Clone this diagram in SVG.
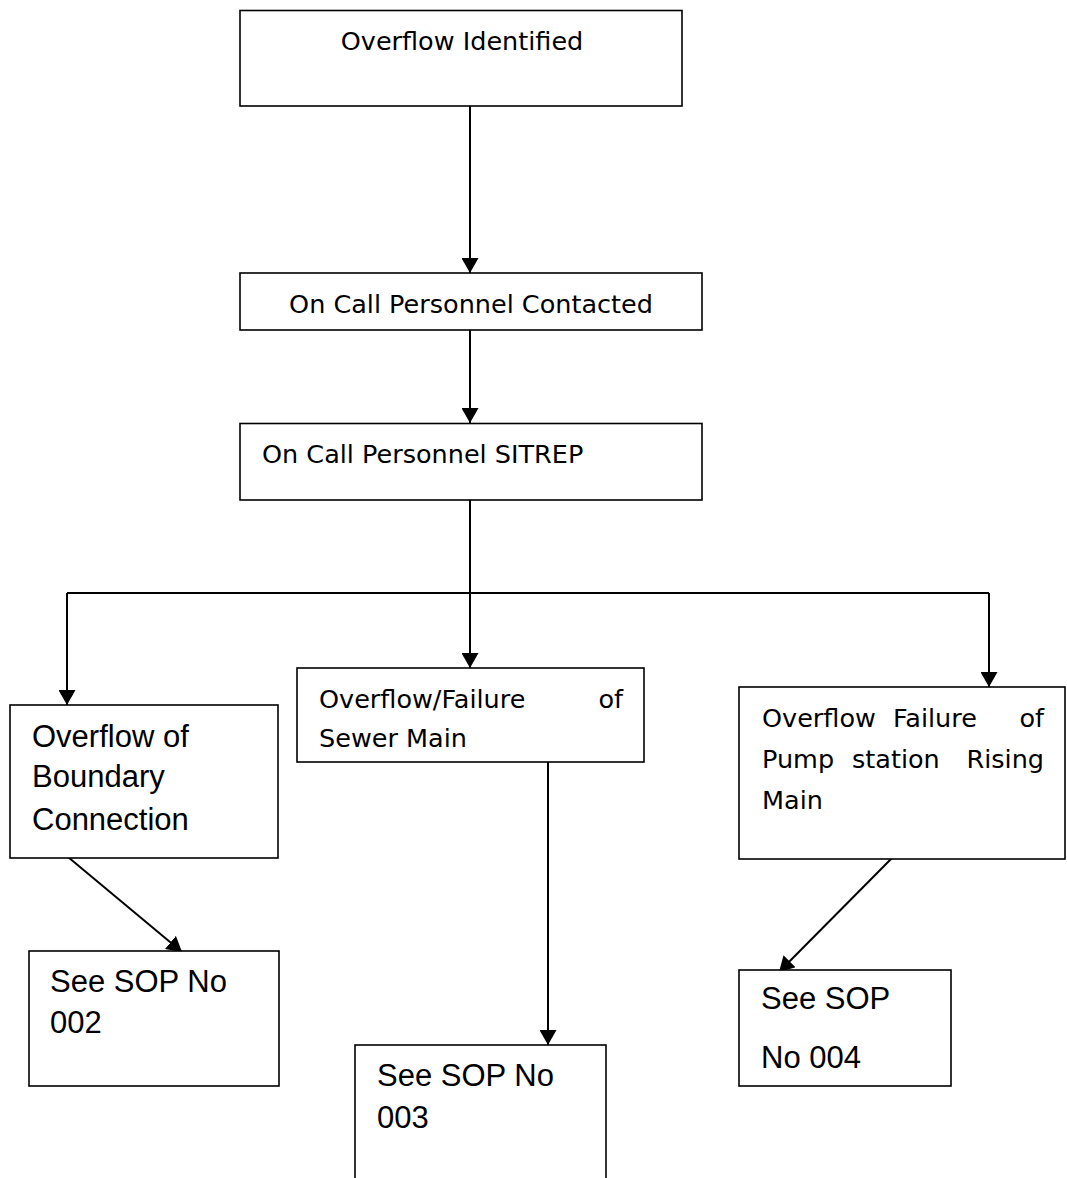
<svg xmlns="http://www.w3.org/2000/svg" width="1067" height="1178" viewBox="0 0 1067 1178">
<defs>
<style>
.box{fill:#fff;stroke:#000;stroke-width:1.6}
.t1{font-family:"DejaVu Sans",Tahoma,Verdana,sans-serif;font-size:25.5px;fill:#000}
.t2{font-family:"Liberation Sans",Arial,sans-serif;font-size:31px;fill:#000}
.c{fill:none;stroke:#000;stroke-width:2}
</style>
<marker id="ah" markerWidth="17" markerHeight="17" refX="15" refY="8.5" orient="auto" markerUnits="userSpaceOnUse">
<path d="M0,0 L15,8.5 L0,17 z" fill="#000"/>
</marker>
</defs>
<rect width="1067" height="1178" fill="#fff"/>
<g id="connectors">
<line class="c" x1="470" y1="106" x2="470" y2="273" marker-end="url(#ah)"/>
<line class="c" x1="470" y1="330" x2="470" y2="423" marker-end="url(#ah)"/>
<line class="c" x1="470" y1="500" x2="470" y2="593"/>
<line class="c" x1="67" y1="593" x2="989" y2="593"/>
<line class="c" x1="67" y1="593" x2="67" y2="705" marker-end="url(#ah)"/>
<line class="c" x1="470" y1="593" x2="470" y2="668" marker-end="url(#ah)"/>
<line class="c" x1="989" y1="593" x2="989" y2="687" marker-end="url(#ah)"/>
<line class="c" x1="68" y1="857" x2="182" y2="952" marker-end="url(#ah)"/>
<line class="c" x1="548" y1="762" x2="548" y2="1045" marker-end="url(#ah)"/>
<line class="c" x1="893" y1="857" x2="779" y2="972" marker-end="url(#ah)"/>
</g>
<g id="n1">
<rect class="box" x="240" y="10.5" width="442" height="95.5"/>
<text class="t1" x="462" y="50" text-anchor="middle">Overflow Identified</text>
</g>
<g id="n2">
<rect class="box" x="240" y="273" width="462" height="57"/>
<text class="t1" x="471" y="313" text-anchor="middle">On Call Personnel Contacted</text>
</g>
<g id="n3">
<rect class="box" x="240" y="423.5" width="462" height="76.5"/>
<text class="t1" x="262" y="463">On Call Personnel SITREP</text>
</g>
<g id="n4">
<rect class="box" x="10" y="705" width="268" height="153"/>
<text class="t2" x="32" y="747">Overflow of</text>
<text class="t2" x="32" y="787">Boundary</text>
<text class="t2" x="32" y="830">Connection</text>
</g>
<g id="n5">
<rect class="box" x="297" y="668" width="347" height="94"/>
<text class="t1" x="319" y="708">Overflow/Failure</text>
<text class="t1" x="623" y="708" text-anchor="end">of</text>
<text class="t1" x="319" y="747">Sewer Main</text>
</g>
<g id="n6">
<rect class="box" x="739" y="687" width="326" height="172"/>
<text class="t1" x="762" y="727">Overflow</text>
<text class="t1" x="893" y="727">Failure</text>
<text class="t1" x="1044" y="727" text-anchor="end">of</text>
<text class="t1" x="762" y="768">Pump</text>
<text class="t1" x="852" y="768">station</text>
<text class="t1" x="1044" y="768" text-anchor="end">Rising</text>
<text class="t1" x="762" y="809">Main</text>
</g>
<g id="n7">
<rect class="box" x="29" y="951" width="250" height="135"/>
<text class="t2" x="50" y="992">See SOP No</text>
<text class="t2" x="50" y="1033">002</text>
</g>
<g id="n8">
<rect class="box" x="355" y="1045" width="251" height="200"/>
<text class="t2" x="377" y="1086">See SOP No</text>
<text class="t2" x="377" y="1128">003</text>
</g>
<g id="n9">
<rect class="box" x="739" y="970" width="212" height="116"/>
<text class="t2" x="761" y="1009">See SOP</text>
<text class="t2" x="761" y="1068">No 004</text>
</g>
</svg>
